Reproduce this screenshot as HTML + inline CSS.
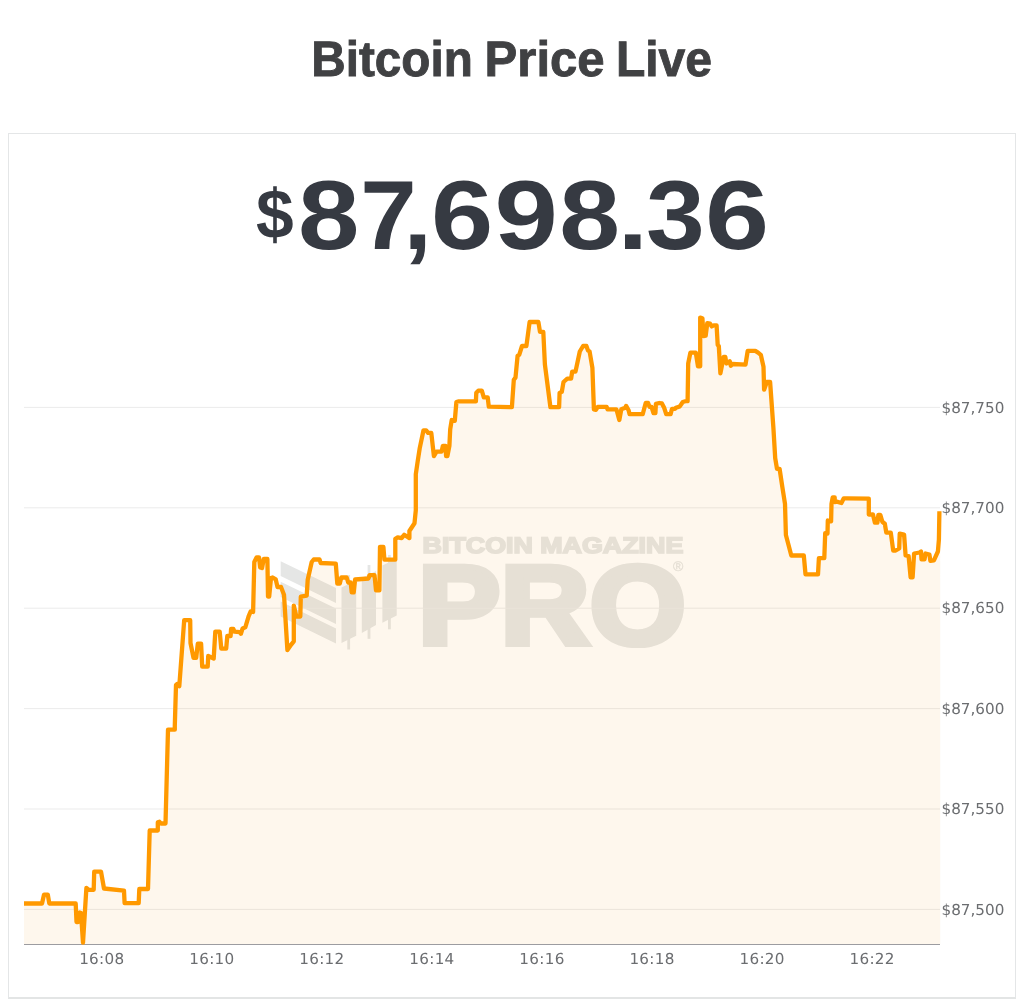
<!DOCTYPE html>
<html><head><meta charset="utf-8"><title>Bitcoin Price Live</title>
<style>
html,body{margin:0;padding:0;background:#ffffff;}
body{width:1024px;height:1008px;position:relative;overflow:hidden;font-family:"Liberation Sans",Arial,sans-serif;}
.card{position:absolute;left:8px;top:133px;width:1008px;height:866px;box-sizing:border-box;border:1px solid #e4e6e7;border-bottom:2px solid #e3e5e5;}
svg{position:absolute;left:0;top:0;text-rendering:geometricPrecision;}
</style></head><body>
<div class="card"></div>
<svg width="1024" height="1008" viewBox="0 0 1024 1008">
<g font-family="Liberation Sans, Arial, sans-serif" font-weight="700" fill="#404143">
<text transform="translate(311.31,76.30) scale(0.9591,1)" font-size="49.7" stroke="#404143" stroke-width="0.9">Bitcoin</text><text transform="translate(484.62,76.30) scale(0.9871,1)" font-size="49.7" stroke="#404143" stroke-width="0.9">Price</text><text transform="translate(615.89,76.30) scale(0.9669,1)" font-size="49.7" stroke="#404143" stroke-width="0.9">Live</text>
</g>
<g font-family="Liberation Sans, Arial, sans-serif" font-weight="700" fill="#363a42">
<text transform="translate(256.05,237.80) scale(0.9726,1)" font-size="69.6">$</text>
<text transform="translate(297.89,249.00) scale(1.1265,1)" font-size="98">8</text><text transform="translate(360.24,249.00) scale(1.0356,1)" font-size="98">7</text><text transform="translate(403.25,249.00) scale(1.0569,1)" font-size="98">,</text><text transform="translate(431.12,249.00) scale(1.1416,1)" font-size="98">6</text><text transform="translate(494.54,249.00) scale(1.1628,1)" font-size="98">9</text><text transform="translate(559.32,249.00) scale(1.1163,1)" font-size="98">8</text><text transform="translate(617.60,249.00) scale(1.1224,1)" font-size="98">.</text><text transform="translate(645.99,249.00) scale(1.0776,1)" font-size="98">3</text><text transform="translate(704.99,249.00) scale(1.1756,1)" font-size="98">6</text>
</g>
<g fill="#e5e6e5" font-family="Liberation Sans, Arial, sans-serif" font-weight="700">
<polygon points="280.7,561.2 336,588.1 336,602.9 280.7,576"/><polygon points="280.7,581.7 336,608.6 336,623.9 280.7,597"/><polygon points="280.7,601.5 336,628.4 336,643.4 280.7,616.5"/><polygon points="341.5,587.5 356.2,580.5 356.2,635.8 341.5,643"/><rect x="347.3" y="575" width="2.8" height="74.5"/><polygon points="361.8,578.0 376.0,571.0 376.0,625.0 361.8,632.9"/><rect x="367.6" y="565" width="2.8" height="73.8"/><polygon points="382.4,565.6 396.7,558.5 396.7,615.6 382.4,622.7"/><rect x="388.0" y="554.9" width="2.8" height="74.4"/>
<text transform="translate(422.62,552.90) scale(1.2033,1)" font-size="22.29" stroke="#e5e6e5" stroke-width="1.6" stroke-linejoin="miter">BITCOIN MAGAZINE</text>
<text transform="translate(418.10,644.40) scale(1.1017,1)" font-size="112.14" stroke="#e5e6e5" stroke-width="6" stroke-linejoin="miter">PRO</text>
<text x="672.9" y="570.6" font-size="14" font-weight="400" stroke="#e5e6e5" stroke-width="0.3">&#174;</text>
</g>
<rect x="24" y="908.9" width="916" height="1" fill="#ececec"/>
<rect x="24" y="808.5" width="916" height="1" fill="#ececec"/>
<rect x="24" y="708.1" width="916" height="1" fill="#ececec"/>
<rect x="24" y="607.7" width="916" height="1" fill="#ececec"/>
<rect x="24" y="507.3" width="916" height="1" fill="#ececec"/>
<rect x="24" y="406.9" width="916" height="1" fill="#ececec"/>

<polygon points="24,944 24,903.5 42,903.5 44,894.7 47.8,894.7 49.3,903.5 75.7,903.5 76.5,922 78,922 79.8,912.5 81,913 83,942.5 86.4,887.8 88.8,889.8 93.7,889.8 94.2,871.7 101,871.7 104,888.5 124,890.6 124.6,903.1 138.7,903.1 139.3,889 148,889 149.7,830.5 157.8,830.5 157.8,822.4 159.5,821.8 161,823.5 165.5,823.5 168,729.7 174.8,729.7 174.8,725.8 176,685.1 177.1,684 179.3,686.2 184.2,620.2 190.2,620.2 190.5,643 193.5,657.8 196.2,657.8 197.8,643.7 201.1,643.7 202.2,666.6 207.7,666.6 208.2,656 213.7,658.5 215.3,631.6 219.7,631.6 221.3,648.6 226.2,648.6 227.3,636 230.6,636 231.1,628.9 233.3,628.9 234.4,631.6 239.8,632.2 240.9,633.8 242.6,628.4 245.3,627.3 248.6,616.4 250.7,611.4 253.1,612 254.3,562 256.7,557.3 259,557.3 260.2,567.4 262,568 263.8,559 267.4,559 268,596.5 269.2,596.5 271,578.1 272.7,577.5 275.7,579.3 277.5,587 281,587 284,594.7 287.4,650 291.4,644.3 293.8,641.3 293.8,605.6 296.3,616.5 300.3,616.5 300.8,596.7 306.7,595.7 307.7,579.8 311.7,562 313.7,559.5 319.6,559.5 320.6,563 335.8,563.7 337.3,583.5 339.8,583.5 341.3,577.5 346.7,577.5 348.2,582.5 350.7,582.5 351.7,592.4 353.7,592.4 355.1,579.5 368.5,578.5 369.5,575.1 374.5,575.1 376,590.4 379.4,590.4 380,546.8 383.4,546.8 384.4,559.7 395.3,559.7 395.3,538.8 397.7,537.4 401.6,538.1 404.2,534.8 409.4,538.1 409.4,531 414.5,523.2 415.8,510.3 415.8,474.2 417.7,461.3 419.7,448.4 423.5,430.3 426.1,430.3 428.1,432.9 431.3,432.9 433.9,456.1 436.5,451.6 441.6,451.6 442.9,445.8 445.5,445.8 446.1,456.1 447.4,456.1 449.4,445.8 450.2,429.4 451.7,420 454.8,420.8 456.4,402 458.8,401.3 475.9,401.3 476.3,392.7 478.3,390.7 481.8,390.7 483.8,397.3 487.7,397.3 488.8,406.7 511.9,407.1 513.8,379.8 515.5,377.6 517.6,355.8 519.3,354.7 522,346 526.4,346 529.6,322 538.4,322 540,331.8 543.3,331.8 544.9,364.5 550.4,407.1 559.1,407.1 559.6,392.9 561.8,391.8 563.5,382 567.3,378.7 571.1,378.7 572.2,371.6 575.5,371.6 579.8,351.5 583.1,346 586.4,346 588,350.4 589.6,351.5 592.4,367.8 593.9,409.3 595.9,409.8 597.8,406.9 606.6,406.9 607.6,409.3 616.4,409.3 619.3,420 621.3,409.3 625.2,407.8 626.1,405.9 628.6,410.3 629.6,414.2 642.7,414.2 645.7,403 648.1,403 649.6,406.9 651.5,406.9 653.5,413.2 655.4,413.2 655.9,403.9 659.3,403 661.8,403.4 664.2,407.8 666.2,414.2 670.6,414.2 672,408.8 675,408.8 675.9,407.8 679.8,406.4 682.8,402 686.2,401 687.6,401.2 688.2,363.5 690.4,352.6 695.8,352.6 698,366.3 700.2,366.3 700.2,317.6 702.4,318.2 703.5,336.2 705.7,335.7 707.3,323.1 710,323.6 711.7,326.4 713.8,325.3 716.6,325.3 717.7,344.9 718.8,346 720.4,373.3 723.7,356.9 725.3,356.9 726.4,363.5 729.7,361.3 730.8,365.7 732.4,364 745.5,364.6 747.7,350.9 755.3,350.9 758.1,352.6 760.8,354.8 763.5,366.8 764.1,389.7 766.8,382 770.1,382 773.4,427.9 775.2,458.2 777,468.9 779.6,468.9 782.3,486.8 785,503.8 785.9,535 791.3,555.5 803.8,555.5 805.5,574.3 818,574.3 818.9,558.2 824.3,558.2 825.2,533.2 827.5,533.5 827.8,520.5 831.1,521.3 831.5,503.8 832.7,497.5 834.7,497.5 834.7,502.2 835.9,501.4 841.4,503 843.8,498.3 847,498.3 868.8,498.7 868.8,514.6 872.9,514.3 874.9,522.7 877.4,522.7 878.4,514.8 880.3,514.8 882.3,521.7 884.8,523.7 886.3,532.7 890.8,532.7 893.2,550.5 895.7,550.5 899.2,548.5 899.7,533.7 904.1,534.6 905.6,555.5 908.6,556 910.6,577.3 912.6,577.3 914.1,553.5 919.5,552.5 921,551.5 921.5,559.4 924.5,559.4 925.5,553.5 929.4,554.5 930.4,560.9 933.9,560.4 937.9,551.5 938.9,539.6 939.4,511.3 940.2,511.3 940.2,944" fill="#f7931a" fill-opacity="0.08"/>
<rect x="24" y="944" width="916" height="1" fill="#9c9ca0"/>
<polyline points="24,903.5 42,903.5 44,894.7 47.8,894.7 49.3,903.5 75.7,903.5 76.5,922 78,922 79.8,912.5 81,913 83,942.5 86.4,887.8 88.8,889.8 93.7,889.8 94.2,871.7 101,871.7 104,888.5 124,890.6 124.6,903.1 138.7,903.1 139.3,889 148,889 149.7,830.5 157.8,830.5 157.8,822.4 159.5,821.8 161,823.5 165.5,823.5 168,729.7 174.8,729.7 174.8,725.8 176,685.1 177.1,684 179.3,686.2 184.2,620.2 190.2,620.2 190.5,643 193.5,657.8 196.2,657.8 197.8,643.7 201.1,643.7 202.2,666.6 207.7,666.6 208.2,656 213.7,658.5 215.3,631.6 219.7,631.6 221.3,648.6 226.2,648.6 227.3,636 230.6,636 231.1,628.9 233.3,628.9 234.4,631.6 239.8,632.2 240.9,633.8 242.6,628.4 245.3,627.3 248.6,616.4 250.7,611.4 253.1,612 254.3,562 256.7,557.3 259,557.3 260.2,567.4 262,568 263.8,559 267.4,559 268,596.5 269.2,596.5 271,578.1 272.7,577.5 275.7,579.3 277.5,587 281,587 284,594.7 287.4,650 291.4,644.3 293.8,641.3 293.8,605.6 296.3,616.5 300.3,616.5 300.8,596.7 306.7,595.7 307.7,579.8 311.7,562 313.7,559.5 319.6,559.5 320.6,563 335.8,563.7 337.3,583.5 339.8,583.5 341.3,577.5 346.7,577.5 348.2,582.5 350.7,582.5 351.7,592.4 353.7,592.4 355.1,579.5 368.5,578.5 369.5,575.1 374.5,575.1 376,590.4 379.4,590.4 380,546.8 383.4,546.8 384.4,559.7 395.3,559.7 395.3,538.8 397.7,537.4 401.6,538.1 404.2,534.8 409.4,538.1 409.4,531 414.5,523.2 415.8,510.3 415.8,474.2 417.7,461.3 419.7,448.4 423.5,430.3 426.1,430.3 428.1,432.9 431.3,432.9 433.9,456.1 436.5,451.6 441.6,451.6 442.9,445.8 445.5,445.8 446.1,456.1 447.4,456.1 449.4,445.8 450.2,429.4 451.7,420 454.8,420.8 456.4,402 458.8,401.3 475.9,401.3 476.3,392.7 478.3,390.7 481.8,390.7 483.8,397.3 487.7,397.3 488.8,406.7 511.9,407.1 513.8,379.8 515.5,377.6 517.6,355.8 519.3,354.7 522,346 526.4,346 529.6,322 538.4,322 540,331.8 543.3,331.8 544.9,364.5 550.4,407.1 559.1,407.1 559.6,392.9 561.8,391.8 563.5,382 567.3,378.7 571.1,378.7 572.2,371.6 575.5,371.6 579.8,351.5 583.1,346 586.4,346 588,350.4 589.6,351.5 592.4,367.8 593.9,409.3 595.9,409.8 597.8,406.9 606.6,406.9 607.6,409.3 616.4,409.3 619.3,420 621.3,409.3 625.2,407.8 626.1,405.9 628.6,410.3 629.6,414.2 642.7,414.2 645.7,403 648.1,403 649.6,406.9 651.5,406.9 653.5,413.2 655.4,413.2 655.9,403.9 659.3,403 661.8,403.4 664.2,407.8 666.2,414.2 670.6,414.2 672,408.8 675,408.8 675.9,407.8 679.8,406.4 682.8,402 686.2,401 687.6,401.2 688.2,363.5 690.4,352.6 695.8,352.6 698,366.3 700.2,366.3 700.2,317.6 702.4,318.2 703.5,336.2 705.7,335.7 707.3,323.1 710,323.6 711.7,326.4 713.8,325.3 716.6,325.3 717.7,344.9 718.8,346 720.4,373.3 723.7,356.9 725.3,356.9 726.4,363.5 729.7,361.3 730.8,365.7 732.4,364 745.5,364.6 747.7,350.9 755.3,350.9 758.1,352.6 760.8,354.8 763.5,366.8 764.1,389.7 766.8,382 770.1,382 773.4,427.9 775.2,458.2 777,468.9 779.6,468.9 782.3,486.8 785,503.8 785.9,535 791.3,555.5 803.8,555.5 805.5,574.3 818,574.3 818.9,558.2 824.3,558.2 825.2,533.2 827.5,533.5 827.8,520.5 831.1,521.3 831.5,503.8 832.7,497.5 834.7,497.5 834.7,502.2 835.9,501.4 841.4,503 843.8,498.3 847,498.3 868.8,498.7 868.8,514.6 872.9,514.3 874.9,522.7 877.4,522.7 878.4,514.8 880.3,514.8 882.3,521.7 884.8,523.7 886.3,532.7 890.8,532.7 893.2,550.5 895.7,550.5 899.2,548.5 899.7,533.7 904.1,534.6 905.6,555.5 908.6,556 910.6,577.3 912.6,577.3 914.1,553.5 919.5,552.5 921,551.5 921.5,559.4 924.5,559.4 925.5,553.5 929.4,554.5 930.4,560.9 933.9,560.4 937.9,551.5 938.9,539.6 939.4,511.3" fill="none" stroke="#ff9900" stroke-width="4.3" stroke-linejoin="round" stroke-linecap="butt"/>
<g font-family="DejaVu Sans, sans-serif" font-size="15.2" fill="#6b6d70">
<text x="941.5" y="914.6">$87,500</text>
<text x="941.5" y="814.2">$87,550</text>
<text x="941.5" y="713.8">$87,600</text>
<text x="941.5" y="613.4">$87,650</text>
<text x="941.5" y="513.0">$87,700</text>
<text x="941.5" y="412.6">$87,750</text>

<text x="101.80" y="963.5" text-anchor="middle" letter-spacing="0.3">16:08</text>
<text x="211.85" y="963.5" text-anchor="middle" letter-spacing="0.3">16:10</text>
<text x="321.90" y="963.5" text-anchor="middle" letter-spacing="0.3">16:12</text>
<text x="431.95" y="963.5" text-anchor="middle" letter-spacing="0.3">16:14</text>
<text x="542.00" y="963.5" text-anchor="middle" letter-spacing="0.3">16:16</text>
<text x="652.05" y="963.5" text-anchor="middle" letter-spacing="0.3">16:18</text>
<text x="762.10" y="963.5" text-anchor="middle" letter-spacing="0.3">16:20</text>
<text x="872.15" y="963.5" text-anchor="middle" letter-spacing="0.3">16:22</text>

</g>
</svg>
</body></html>
